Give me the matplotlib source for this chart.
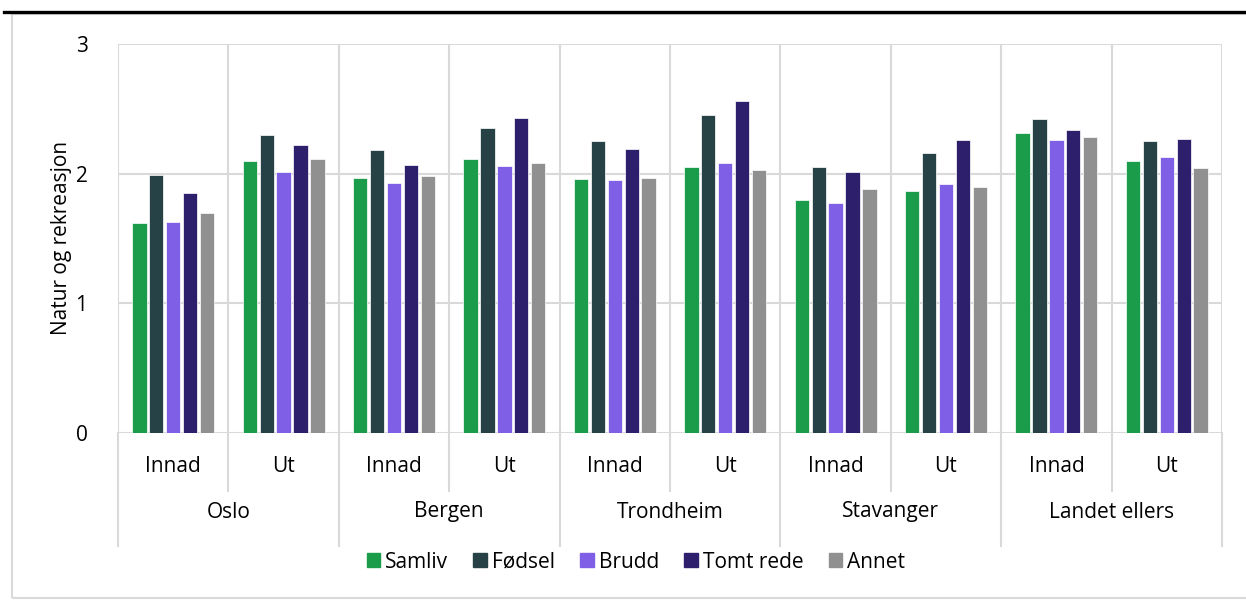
import matplotlib.pyplot as plt
import matplotlib.transforms as mtrans
from matplotlib.patches import Rectangle
from matplotlib.lines import Line2D
import numpy as np

plt.rcParams['font.family'] = ['Open Sans', 'DejaVu Sans']

regions = ["Oslo", "Bergen", "Trondheim", "Stavanger", "Landet ellers"]
directions = ["Innad", "Ut"]
series_names = ["Samliv", "Fødsel", "Brudd", "Tomt rede", "Annet"]
colors = ["#1B9C4A", "#274247", "#7E5FE5", "#2E1F6D", "#909090"]

# order: Oslo Innad, Oslo Ut, Bergen Innad, ... Landet ellers Ut
samliv = [1.62, 2.10, 1.97, 2.11, 1.96, 2.05, 1.80, 1.87, 2.31, 2.10]
fodsel = [1.99, 2.30, 2.18, 2.35, 2.25, 2.45, 2.05, 2.16, 2.42, 2.25]
brudd = [1.63, 2.01, 1.93, 2.06, 1.95, 2.08, 1.77, 1.92, 2.26, 2.13]
tomt_rede = [1.85, 2.22, 2.07, 2.43, 2.19, 2.56, 2.01, 2.26, 2.34, 2.27]
annet = [1.70, 2.11, 1.98, 2.08, 1.97, 2.03, 1.88, 1.90, 2.28, 2.04]
all_series = [samliv, fodsel, brudd, tomt_rede, annet]

W, H = 1246, 601
fig = plt.figure(figsize=(W / 100, H / 100), dpi=100)
ax = fig.add_axes([118 / W, 1 - 433 / H, (1222 - 118) / W, (433 - 44) / H])

grid_col = "#D9D9D9"
fs = 15

n = len(samliv)
x = np.arange(n)
step = 0.153
bw = 0.13
for i, (vals, col, name) in enumerate(zip(all_series, colors, series_names)):
    ax.bar(x + (i - 2) * step, vals, width=bw, color=col, edgecolor="white",
           linewidth=0.5, label=name, zorder=3)

ax.set_xlim(-0.5, n - 0.5)
ax.set_ylim(0, 3)
ax.set_yticks([0, 1, 2, 3])
ax.set_yticklabels(["0", "1", "2", "3"], fontsize=fs)
ax.tick_params(axis="y", length=0, pad=22)
ax.set_xticks([])
for s in ax.spines.values():
    s.set_visible(False)
for yv in [0, 1, 2, 3]:
    ax.axhline(yv, color=grid_col, lw=1.5, zorder=1)
for xv in np.arange(-0.5, n, 1.0):
    ax.axvline(xv, color=grid_col, lw=1.5, zorder=1)

# category table under the plot
tr = mtrans.blended_transform_factory(ax.transData, fig.transFigure)
def fy(px):
    return 1 - px / H

for k in range(n + 1):
    xv = k - 0.5
    bottom = 546 if k % 2 == 0 else 491
    ax.add_line(Line2D([xv, xv], [fy(433), fy(bottom)], transform=tr,
                       color=grid_col, lw=1.5, clip_on=False))
for k in range(n):
    ax.text(k, fy(466), directions[k % 2], transform=tr, ha="center",
            va="center", fontsize=fs)
for j, r in enumerate(regions):
    ax.text(2 * j + 0.5, fy(512), r, transform=tr, ha="center",
            va="center", fontsize=fs)

fig.text(62 / W, fy(238), "Natur og rekreasjon", rotation=90,
         ha="center", va="center", fontsize=fs)

handles = [Rectangle((0, 0), 1, 1, color=c) for c in colors]
fig.legend(handles, series_names, loc="center", bbox_to_anchor=(636 / W, fy(562)),
           ncol=5, frameon=False, fontsize=fs, handlelength=0.65,
           handleheight=0.65, handletextpad=0.25, columnspacing=1.2)

# outer frame and black rule on top
fig.patches.append(Rectangle((12 / W, fy(598)), (1262 - 12) / W, (598 - 14) / H,
                             transform=fig.transFigure, fill=False,
                             edgecolor=grid_col, lw=1.5))
fig.add_artist(Line2D([4 / W, 1], [fy(11.5), fy(11.5)], transform=fig.transFigure,
                      color="black", lw=2.4))

fig.savefig("out.png", dpi=100)
